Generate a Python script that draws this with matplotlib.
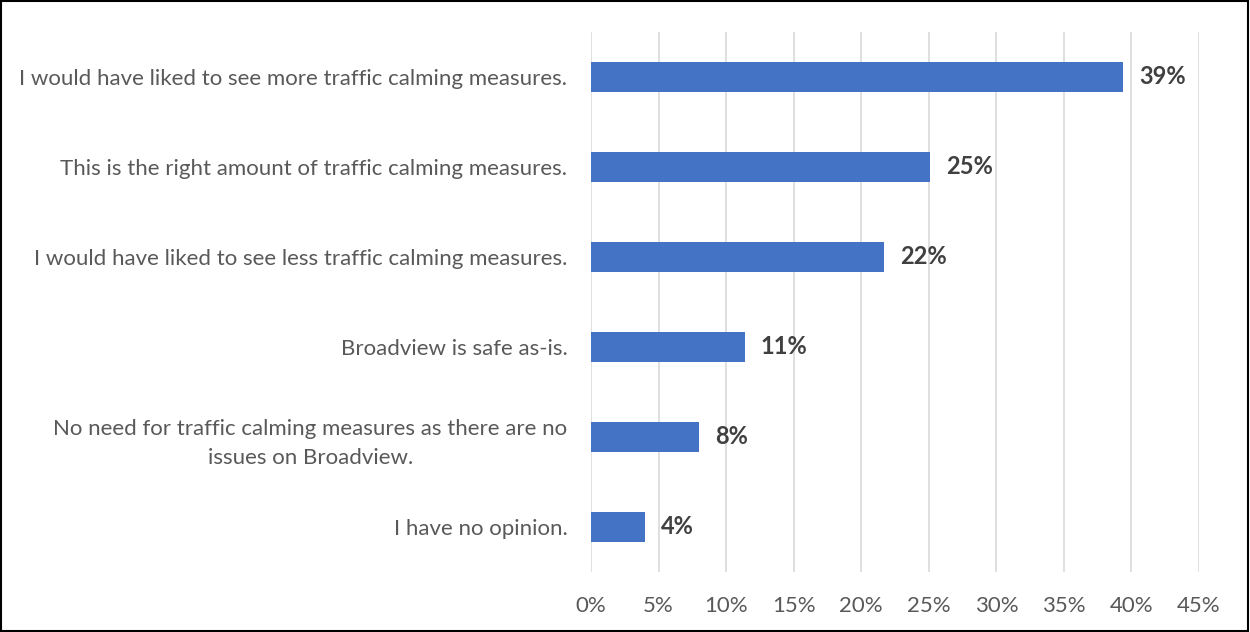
import matplotlib
matplotlib.use("Agg")
import matplotlib.pyplot as plt
from matplotlib.patches import Rectangle

categories = [
    "I would have liked to see more traffic calming measures.",
    "This is the right amount of traffic calming measures.",
    "I would have liked to see less traffic calming measures.",
    "Broadview is safe as-is.",
    "No need for traffic calming measures as there are no\nissues on Broadview.",
    "I have no opinion.",
]
values = [39.4, 25.1, 21.7, 11.4, 8.0, 4.0]
xticks = [0, 5, 10, 15, 20, 25, 30, 35, 40, 45]
xtick_labels = [f"{t}%" for t in xticks]

plt.rcParams['font.family'] = ['Lato', 'DejaVu Sans']

fig = plt.figure(figsize=(12.5, 6.32), dpi=100)
ax = fig.add_axes([591/1250, 1-572/632, (1199-591)/1250, 540/632])

y = list(range(len(categories)))
ax.barh(y, values, height=0.34, color="#4472C4", zorder=3)
for yi, v in zip(y, values):
    ax.text(v + 1.15, yi, f"{round(v)}%", va="center", ha="left",
            fontsize=17, fontweight="bold", color="#404040")

ax.set_xlim(0, 45)
ax.set_ylim(5.5, -0.5)
ax.set_xticks(xticks)
ax.set_xticklabels(xtick_labels, fontsize=16, color="#595959")
ax.set_yticks(y)
ax.set_yticklabels(categories, fontsize=16, color="#595959", ha="right",
                   multialignment="center", linespacing=1.55)
ax.tick_params(axis="y", length=0, pad=17)
ax.tick_params(axis="x", length=0, pad=17)
ax.grid(axis="x", color="#d9d9d9", linewidth=1.2, zorder=0)
for s in ax.spines.values():
    s.set_visible(False)

fig.patches.append(Rectangle((0.001, 0.002), 0.997, 0.996, transform=fig.transFigure,
                             fill=False, edgecolor="black", linewidth=1.5))

fig.savefig("out.png", dpi=100)
